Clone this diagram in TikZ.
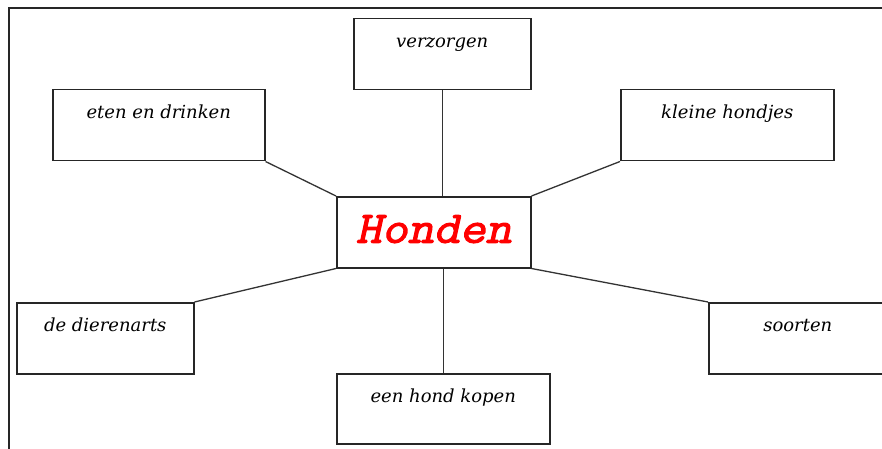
\documentclass[tikz,border=0pt]{standalone}
\usepackage{fontspec}
\newfontfamily\labelfont{DejaVu Serif}
\newfontfamily\titlefont[FakeBold=2.5,FakeSlant=0.22,FakeStretch=1.12]{Latin Modern Mono}
\begin{document}
\begin{tikzpicture}[x=1pt,y=-1pt,
  box/.style={draw=black!85, line width=1.5pt, rectangle, inner sep=0pt,
    anchor=north west, minimum height=71pt, text height=29pt, text depth=42pt,
    font=\labelfont\itshape\fontsize{18}{20}\selectfont},
  link/.style={draw=black!80, line width=1.3pt},
  frame/.style={draw=black!70!gray, line width=2pt}]
\useasboundingbox (0,0) rectangle (882,449);
\clip (0,0) rectangle (882,449);
\fill[white] (0,0) rectangle (882,449);
\draw[frame] (8.5,449) -- (8.5,8.5) -- (882,8.5);

\node[box, minimum width=177pt] (v) at (353,18) {verzorgen};
\node[box, minimum width=212pt] (e) at (52,89) {eten en drinken};
\node[box, minimum width=213pt] (k) at (620,89) {kleine hondjes};
\node[box, minimum width=194pt, text height=46pt, text depth=25pt,
  font=\titlefont\fontsize{45}{47}\selectfont, text=red] (h) at (336,196) {Honden};
\node[box, minimum width=177pt] (d) at (16,302) {de dierenarts};
\node[box, minimum width=178pt] (s) at (708,302) {soorten};
\node[box, minimum width=213pt, minimum height=70pt, text depth=41pt] (o) at (336,373) {een hond kopen};

\draw[link] (v.south) -- (v.south |- h.north);
\draw[link] (e.south east) -- (h.north west);
\draw[link] (k.south west) -- (h.north east);
\draw[link] (h.south west) -- (d.north east);
\draw[link] (h.south east) -- (s.north west);
\draw[link] (o.north |- h.south) -- (o.north);
\end{tikzpicture}
\end{document}
